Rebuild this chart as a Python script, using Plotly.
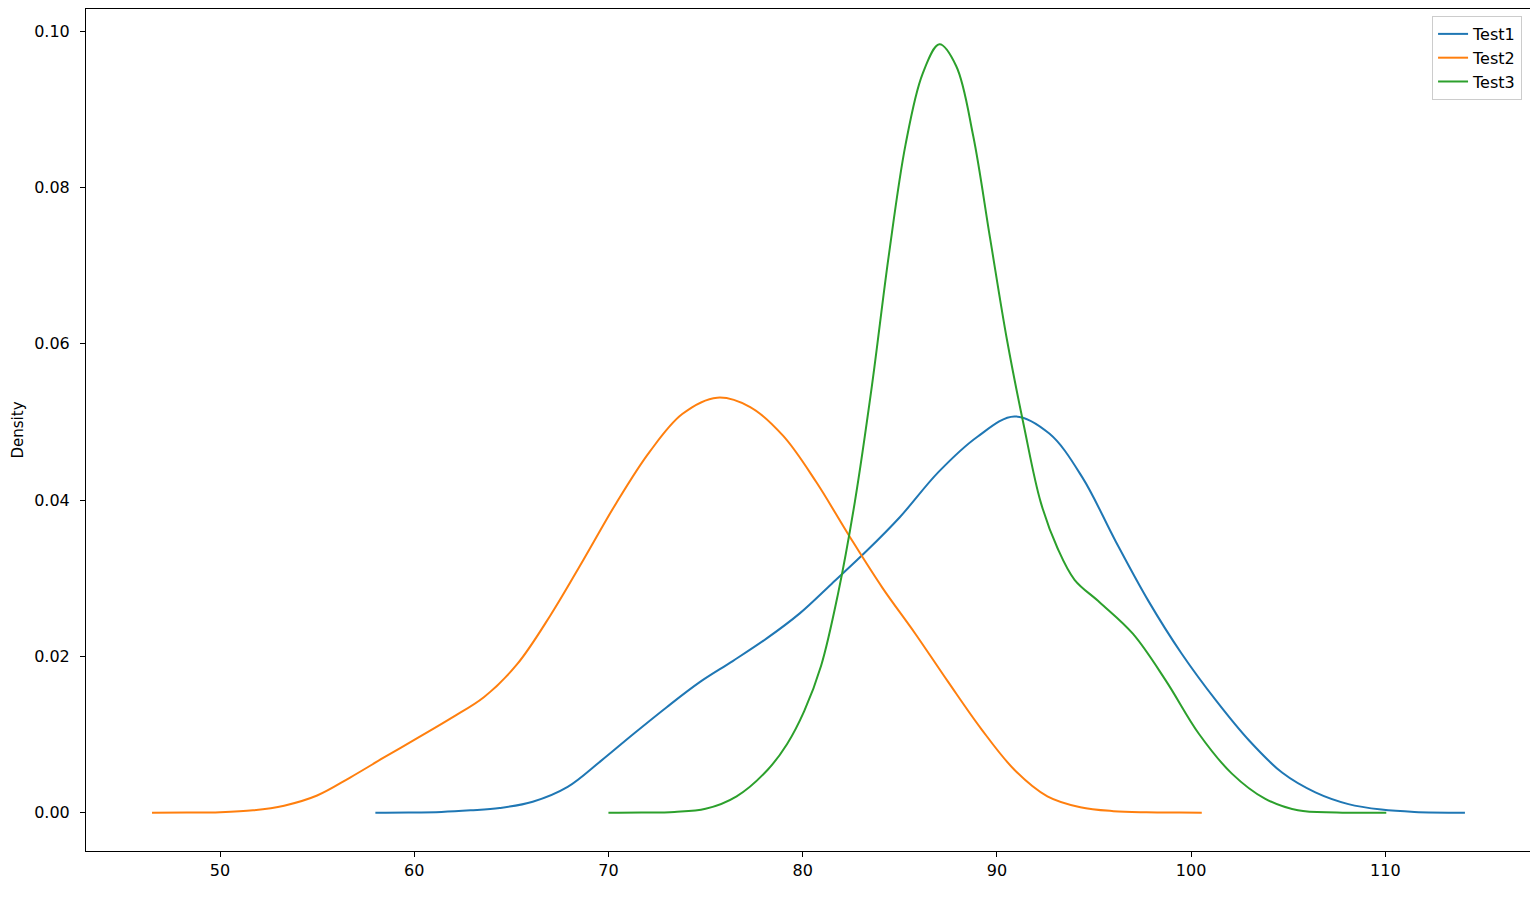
import plotly.graph_objects as go

# Test1 density curve
test1_x = [58.0, 59.7, 61.4, 62.9, 64.4, 66.1, 67.9, 69.6, 71.3, 73.0, 74.7, 76.4, 78.15,
           79.85, 81.5, 83.3, 85.0, 87.0, 89.0, 90.9, 92.7, 94.4, 96.1, 97.8, 99.5, 101.3,
           103.0, 104.7, 106.4, 108.1, 109.8, 111.5, 114.1]
test1_y = [0.0, 0.00002, 0.0001, 0.0003, 0.0006, 0.0014, 0.0033, 0.0066, 0.0101, 0.0135,
           0.0167, 0.0194, 0.0223, 0.0255, 0.0293, 0.0335, 0.0378, 0.0436, 0.0481, 0.0507,
           0.0485, 0.0429, 0.0348, 0.0271, 0.0204, 0.0143, 0.0092, 0.0051, 0.0026, 0.0011,
           0.0004, 0.0001, 0.0]

# Test2 density curve
test2_x = [46.5, 48.3, 50.0, 51.7, 53.3, 55.0, 56.7, 58.4, 60.2, 61.9, 63.6, 65.3, 67.0,
           68.7, 70.4, 72.1, 73.8, 75.6, 77.3, 79.0, 80.7, 82.4, 84.1, 85.8, 87.5, 89.2,
           90.9, 92.6, 94.3, 96.0, 97.7, 99.4, 100.55]
test2_y = [0.0, 0.00001, 0.00006, 0.0003, 0.0009, 0.0022, 0.0045, 0.0070, 0.0096, 0.0121,
           0.0148, 0.0190, 0.0252, 0.0323, 0.0396, 0.0461, 0.0510, 0.0531, 0.0519, 0.0482,
           0.0423, 0.0354, 0.0288, 0.0229, 0.0167, 0.0107, 0.0055, 0.0021, 0.0007, 0.0002,
           0.00005, 0.00001, 0.0]

# Test3 density curve
test3_x = [70.0, 71.7, 73.4, 75.0, 76.6, 78.2, 79.2, 80.08, 80.95, 81.82, 82.69, 83.56,
           84.43, 85.30, 86.17, 87.04, 87.91, 88.78, 89.65, 90.52, 91.39, 92.26, 93.13,
           94.0, 95.3, 97.0, 98.7, 100.4, 102.1, 103.8, 105.5, 107.5, 110.05]
test3_y = [0.0, 0.00002, 0.0001, 0.0005, 0.0021, 0.0055, 0.0088, 0.0130, 0.0188, 0.0280,
           0.0398, 0.0545, 0.0712, 0.0855, 0.0945, 0.0983, 0.0955, 0.0866, 0.0735, 0.0605,
           0.0495, 0.0397, 0.0338, 0.0298, 0.0269, 0.0229, 0.0169, 0.0101, 0.0050, 0.0018,
           0.0003, 0.00003, 0.0]

series_names = ["Test1", "Test2", "Test3"]
colors = ["#1f77b4", "#ff7f0e", "#2ca02c"]

x_ticks = [50, 60, 70, 80, 90, 100, 110]
y_ticks = [0.00, 0.02, 0.04, 0.06, 0.08, 0.10]

fig = go.Figure()
for name, xs, ys, c in zip(series_names, [test1_x, test2_x, test3_x],
                           [test1_y, test2_y, test3_y], colors):
    fig.add_trace(go.Scatter(x=xs, y=ys, mode="lines", name=name,
                             line=dict(color=c, width=2, shape="spline", smoothing=1.0)))

fnt = "DejaVu Sans"
fig.update_layout(
    width=1523, height=883,
    margin=dict(l=78, r=1, t=1, b=40),
    paper_bgcolor="white", plot_bgcolor="white",
    font=dict(family=fnt, size=16, color="black"),
    showlegend=True,
    legend=dict(x=0.9945, y=0.9917, xanchor="right", yanchor="top",
                bgcolor="white", bordercolor="#cccccc", borderwidth=1,
                font=dict(family=fnt, size=16, color="black")),
    xaxis=dict(range=[43.1, 117.45], tickvals=x_ticks, ticktext=[str(v) for v in x_ticks],
               showgrid=False, zeroline=False, showline=True, linecolor="black",
               linewidth=1, mirror=True, ticks="outside", ticklen=5, tickcolor="black",
               automargin=False, tickfont=dict(family=fnt, size=16)),
    yaxis=dict(range=[-0.0049, 0.10282], tickvals=y_ticks,
               ticktext=[f"{v:.2f}" for v in y_ticks],
               showgrid=False, zeroline=False, showline=True, linecolor="black",
               linewidth=1, mirror=True, ticks="outside", ticklen=5, tickcolor="black",
               ticklabelstandoff=7,
               automargin=False, tickfont=dict(family=fnt, size=16),
               title=dict(text="Density", standoff=6, font=dict(family=fnt, size=15))),
)

fig.write_html("out.html")
